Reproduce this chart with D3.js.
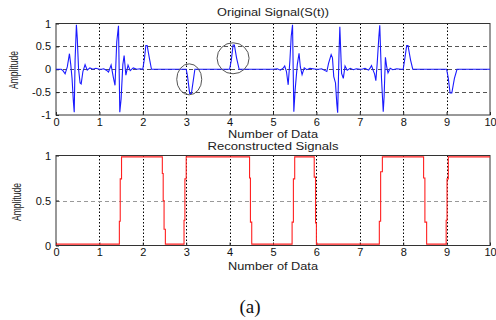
<!DOCTYPE html>
<html>
<head>
<meta charset="utf-8">
<script src="https://cdn.jsdelivr.net/npm/d3@7"></script>
<style>
	body { margin: 0; background: #fff; }
	svg { display: block; }
</style>
</head>
<body>
<div id="chart"></div>
<script>
'use strict';

// original signal S(t)
var signalX = [0, 0.12, 0.16, 0.21, 0.26, 0.31, 0.34, 0.37, 0.40, 0.42, 0.44, 0.47, 0.49, 0.52, 0.555, 0.58, 0.62, 0.67, 0.72, 0.78, 0.85, 0.92, 1.0,
	1.05, 1.1, 1.16, 1.21, 1.27, 1.32, 1.36, 1.40, 1.44, 1.47, 1.50, 1.54, 1.57, 1.61, 1.66, 1.71, 1.78, 1.86, 1.94, 2.0,
	2.04, 2.07, 2.1, 2.15, 2.2,
	3.0, 3.03, 3.08, 3.12, 3.17, 3.2,
	4.0, 4.04, 4.08, 4.11, 4.16, 4.22,
	5.0, 5.1, 5.17, 5.24, 5.27, 5.31, 5.35, 5.39, 5.42, 5.45, 5.48, 5.51, 5.56, 5.6, 5.63, 5.67, 5.72, 5.78, 5.85, 6.0,
	6.05, 6.12, 6.2, 6.24, 6.28, 6.34, 6.37, 6.40, 6.44, 6.47, 6.49, 6.52, 6.54, 6.58, 6.62, 6.66, 6.71, 6.78, 6.85, 6.92, 7.0,
	7.05, 7.12, 7.2, 7.24, 7.27, 7.31, 7.34, 7.37, 7.40, 7.44, 7.46, 7.50, 7.54, 7.56, 7.59, 7.62, 7.65, 7.7, 7.76, 7.85, 7.95, 8.0,
	8.04, 8.08, 8.11, 8.17, 8.22,
	9.0, 9.04, 9.08, 9.12, 9.18, 9.24, 10];
var signalY = [0, 0, -0.03, -0.1, 0.05, 0.34, 0.1, -0.2, -0.7, -0.94, 0.2, 0.97, 0.68, 0.0, -0.3, -0.32, -0.05, 0.1, -0.02, 0.03, 0.0, 0.02, 0,
	0, 0.01, -0.02, -0.06, 0.09, -0.17, -0.35, 0.6, 0.95, -0.94, -0.65, 0.1, 0.3, -0.13, 0.09, -0.03, 0.03, 0, 0.01, 0,
	0.25, 0.52, 0.52, 0.25, 0,
	0, -0.15, -0.53, -0.53, -0.2, 0,
	0, 0.2, 0.53, 0.53, 0.25, 0,
	0, 0.01, -0.02, 0.03, 0.07, -0.05, -0.34, 0.2, 0.72, 0.97, -0.93, -0.45, 0.1, 0.35, 0.05, -0.12, 0.03, -0.01, 0.02, 0,
	0, 0.01, -0.03, -0.05, 0.13, 0.32, 0.25, -0.16, -0.3, -0.75, -0.95, 0.3, 0.93, -0.09, -0.2, 0.07, -0.02, 0.02, -0.01, 0.01, 0,
	0, 0.02, -0.02, 0.03, 0.08, -0.03, -0.1, -0.25, 0.12, 0.72, 0.96, -0.2, -0.93, -0.6, 0.26, 0.05, -0.08, 0.02, -0.01, 0.01, 0, 0,
	0.25, 0.52, 0.52, 0.2, 0,
	0, -0.2, -0.52, -0.52, -0.2, 0, 0];

// reconstructed signal, each level held until the next x (step after)
var reconX = [0, 1.46, 1.48, 1.51, 2.45, 2.47, 2.49, 2.52, 2.95, 2.97, 3.0, 4.46, 4.48, 4.51, 5.44, 5.47, 5.5,
	5.95, 5.98, 6.0, 7.45, 7.48, 7.52, 8.47, 8.5, 8.54, 8.99, 9.01, 9.04, 10];
var reconY = [0.015, 0.27, 0.74, 0.985, 0.8, 0.5, 0.18, 0.015, 0.28, 0.74, 0.985, 0.75, 0.26, 0.015, 0.26, 0.74, 0.985,
	0.76, 0.25, 0.015, 0.27, 0.82, 0.985, 0.75, 0.26, 0.015, 0.28, 0.74, 0.985, 0.985];

var xTicks = [0, 1, 2, 3, 4, 5, 6, 7, 8, 9, 10];
var topYTicks = [-1, -0.5, 0, 0.5, 1];
var bottomYTicks = [0, 0.5, 1];
var topGridY = [-0.5, 0, 0.5];
var bottomGridY = [0.5];

// circled features (data coordinates)
var circleX = [3.07, 4.08];
var circleY = [-0.22, 0.24];

var width = 496, height = 320;
var svg = d3.select("#chart").append("svg")
	.attr("width", width)
	.attr("height", height)
	.attr("font-family", "'Liberation Sans', Arial, sans-serif");

var x = d3.scaleLinear().domain([0, 10]).range([56, 490]);
var yTop = d3.scaleLinear().domain([-1, 1]).range([115, 23.5]);
var yBot = d3.scaleLinear().domain([0, 1]).range([245.5, 155.5]);

function drawPanel(y, yTicks, gridY, gridColor) {
	var g = svg.append("g");
	var y0 = y.range()[0], y1 = y.range()[1];

	// vertical dotted grid
	g.selectAll("line.vgrid").data(xTicks.slice(1, -1)).enter().append("line")
		.attr("x1", function(d) { return Math.round(x(d)) + 0.5; })
		.attr("x2", function(d) { return Math.round(x(d)) + 0.5; })
		.attr("y1", y1).attr("y2", y0)
		.attr("stroke", "#000")
		.attr("stroke-dasharray", "1.5,2");

	// horizontal dashed grid
	g.selectAll("line.hgrid").data(gridY).enter().append("line")
		.attr("x1", x(0)).attr("x2", x(10))
		.attr("y1", function(d) { return Math.round(y(d)) + 0.5; })
		.attr("y2", function(d) { return Math.round(y(d)) + 0.5; })
		.attr("stroke", gridColor)
		.attr("stroke-dasharray", "4,3");

	// axes with inward ticks
	var xAxis = d3.axisBottom(x).tickValues(xTicks).tickSize(-3).tickPadding(3)
		.tickFormat(d3.format("d"));
	g.append("g").attr("transform", "translate(0," + y0 + ")").call(xAxis);
	var yAxis = d3.axisLeft(y).tickValues(yTicks).tickSize(-3).tickPadding(5)
		.tickFormat(function(d) { return String(d); });
	g.append("g").attr("transform", "translate(" + x(0) + ",0)").call(yAxis);

	g.selectAll(".domain").remove();
	g.selectAll(".tick line").attr("stroke", "#222");
	g.selectAll(".tick text")
		.attr("font-size", "11px")
		.attr("font-family", "'Liberation Sans', Arial, sans-serif")
		.attr("fill", "#111");

	// box
	g.append("rect")
		.attr("x", x(0)).attr("y", y1)
		.attr("width", x(10) - x(0)).attr("height", y0 - y1)
		.attr("fill", "none")
		.attr("stroke", "#333");
	return g;
}

var topG = drawPanel(yTop, topYTicks, topGridY, "#555");
var botG = drawPanel(yBot, bottomYTicks, bottomGridY, "#999");

// original signal
var sigLine = d3.line()
	.x(function(i) { return x(signalX[i]); })
	.y(function(i) { return yTop(signalY[i]); });
topG.append("path")
	.attr("d", sigLine(d3.range(signalX.length)))
	.attr("fill", "none")
	.attr("stroke", "#1a1aff")
	.attr("stroke-width", 1.1);

// circles
topG.selectAll("ellipse").data(d3.range(circleX.length)).enter().append("ellipse")
	.attr("cx", function(i) { return x(circleX[i]); })
	.attr("cy", function(i) { return yTop(circleY[i]); })
	.attr("rx", function(i) { return i === 0 ? 12.5 : 16; })
	.attr("ry", 15.5)
	.attr("fill", "none")
	.attr("stroke", "#555")
	.attr("stroke-width", 1);

// reconstructed signal
var recLine = d3.line()
	.curve(d3.curveStepAfter)
	.x(function(i) { return x(reconX[i]); })
	.y(function(i) { return yBot(reconY[i]); });
botG.append("path")
	.attr("d", recLine(d3.range(reconX.length)))
	.attr("fill", "none")
	.attr("stroke", "#ff2020")
	.attr("stroke-width", 1.1);

// text
function label(txt, tx, ty, size, len, rotate) {
	var t = svg.append("text")
		.attr("x", tx).attr("y", ty)
		.attr("text-anchor", "middle")
		.attr("font-size", size + "px")
		.attr("fill", "#222")
		.text(txt);
	if (len) t.attr("textLength", len).attr("lengthAdjust", "spacingAndGlyphs");
	if (rotate) t.attr("transform", "rotate(-90," + tx + "," + ty + ")");
	return t;
}

label("Original Signal(S(t))", 273, 16, 10, 112);
label("Number of Data", 273, 138, 10, 90);
label("Reconstructed Signals", 273, 149.5, 10, 131);
label("Number of Data", 273, 269.5, 10, 90);
label("Amplitude", 18, 70, 12.5, 38, true);
label("Amplitude", 21, 202, 12.5, 38, true);

svg.append("text")
	.attr("x", 250).attr("y", 313)
	.attr("text-anchor", "middle")
	.attr("font-family", "'Liberation Serif', 'Times New Roman', serif")
	.attr("font-size", "19px")
	.attr("fill", "#111")
	.text("(a)");
</script>
</body>
</html>
